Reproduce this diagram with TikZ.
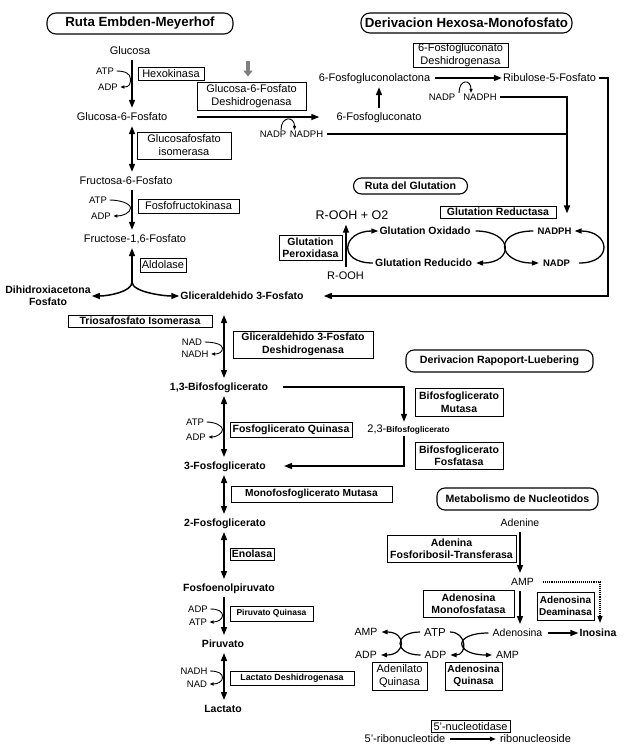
\documentclass[tikz,border=0pt]{standalone}
\usepackage{fontspec}
\setmainfont{Liberation Sans}
\usetikzlibrary{arrows.meta,calc}
\tikzset{
  met/.style={font=\fontsize{11}{13}\selectfont, inner xsep=1pt, inner ysep=5pt, text height=7.9pt, text depth=0pt},
  nmet/.style={met, font=\fontsize{10.5}{12.5}\selectfont, text height=7.6pt},
  bmet/.style={font=\fontsize{10.5}{12.5}\selectfont\bfseries, inner xsep=1pt, inner ysep=5pt, text height=7.6pt, text depth=0pt},
  cof/.style={font=\fontsize{9.5}{11}\selectfont, inner sep=0.5pt, text height=6.8pt, text depth=0pt},
  enz/.style={draw, line width=0.8pt, inner sep=0pt, align=center, font=\fontsize{11}{13}\selectfont},
  benz/.style={enz, font=\fontsize{10.5}{12.5}\selectfont\bfseries},
  sbenz/.style={enz, font=\fontsize{8.5}{10}\selectfont\bfseries},
  ttl/.style={draw, line width=1.1pt, rounded corners=9pt, inner sep=0pt, font=\fontsize{13.3}{15}\selectfont\bfseries},
  sttl/.style={ttl, rounded corners=8pt, font=\fontsize{10.6}{12}\selectfont\bfseries},
  arr/.style={line width=1.5pt, -{Triangle[length=8pt,width=6pt]}},
  darr/.style={line width=1.5pt, {Triangle[length=8pt,width=6pt]}-{Triangle[length=8pt,width=6pt]}},
  ln/.style={line width=1.5pt},
  carr/.style={line width=0.9pt, -{Triangle[length=4pt,width=3.2pt]}},
  garr/.style={line width=1.3pt, -{Triangle[length=7pt,width=5pt]}},
  narr/.style={line width=1.2pt, -{Triangle[length=6pt,width=4.5pt]}},
}
\begin{document}
\begin{tikzpicture}[x=1pt,y=-1pt]
\useasboundingbox (0,0) rectangle (624,755);
% column coordinates
\coordinate (cA) at (132,0);
\coordinate (cB) at (224,0);
\coordinate (cC) at (404,0);
\coordinate (cR) at (567,0);
\coordinate (cRR) at (608,0);
\coordinate (cG) at (346,0);
\coordinate (cN) at (520,0);
\coordinate (cD) at (600,0);

% titles
\node[ttl, minimum width=186pt, minimum height=21pt] (t1) at (140,23.5) {Ruta Embden-Meyerhof};
\node[ttl, minimum width=211pt, minimum height=20pt] (t2) at (466.5,23) {Derivacion Hexosa-Monofosfato};
\node[sttl, minimum width=114pt, minimum height=16pt] (t3) at (410.5,186) {Ruta del Glutation};
\node[sttl, minimum width=187pt, minimum height=22pt] (t4) at (499.5,361) {Derivacion Rapoport-Luebering};
\node[sttl, minimum width=161pt, minimum height=22pt] (t5) at (517.5,499) {Metabolismo de Nucleotidos};

% ---------------- upper glycolysis
\node[met] (glc) at (130,51) {Glucosa};
\node[met] (g6p) at (122,117) {Glucosa-6-Fosfato};
\node[met] (f6p) at (126,181) {Fructosa-6-Fosfato};
\node[met] (f16) at (135,239) {Fructose-1,6-Fosfato};
\node[font=\fontsize{10.5}{12}\selectfont\bfseries, align=center, inner sep=1pt] (dhap) at (48,296) {Dihidroxiacetona\\Fosfato};
\node[bmet] (gap) at (242,296) {Gliceraldehido 3-Fosfato};

\node[enz, minimum width=66pt, minimum height=13pt] (hk) at (171,73.5) {Hexokinasa};
\node[cof] (atp1) at (105,71) {ATP};
\node[cof] (adp1) at (108,87) {ADP};
\draw[arr] (glc.south -| cA) -- (g6p.north -| cA);
\coordinate (m1) at ($(atp1.east)!0.5!(adp1.east)$);
\draw[carr] ([xshift=2pt]atp1.east) .. controls +(9,0) and +(0,-5) .. ($(m1 -| cA)+(-1.5,0)$) .. controls +(0,5) and +(9,0) .. ([xshift=2pt]adp1.east);

\node[enz, minimum width=94pt, minimum height=27pt] (gpi) at (184,145.5) {Glucosafosfato\\isomerasa};
\draw[darr] (g6p.south -| cA) -- (f6p.north -| cA);

\node[enz, minimum width=101pt, minimum height=14pt] (pfk) at (188.5,206) {Fosfofructokinasa};
\node[cof] (atp2) at (98,200) {ATP};
\node[cof] (adp2) at (101,216) {ADP};
\draw[arr] (f6p.south -| cA) -- (f16.north -| cA);
\coordinate (m2) at ($(atp2.east)!0.5!(adp2.east)$);
\draw[carr] ([xshift=2pt]atp2.east) .. controls +(9,0) and +(0,-5) .. ($(m2 -| cA)+(-1.5,0)$) .. controls +(0,5) and +(9,0) .. ([xshift=2pt]adp2.east);

\node[enz, minimum width=46pt, minimum height=14pt] (ald) at (163,265) {Aldolase};
\coordinate (jn) at (132,282);
\draw[arr] (jn) -- (f16.south -| jn);
\draw[arr] (jn) .. controls +(0,10) and +(16,0) .. (dhap.east);
\draw[arr] (jn) .. controls +(0,10) and +(-16,0) .. (gap.west);

% ---------------- hexose monophosphate
\node[enz, minimum width=109pt, minimum height=28pt] (g6pd) at (251.5,96) {Glucosa-6-Fosfato\\Deshidrogenasa};
\coordinate (gsrc) at (248,61);
\draw[line width=3.5pt, gray, -{Triangle[length=6pt,width=9pt]}] (gsrc) -- ($(g6pd.north -| gsrc)+(0,-5)$);
\node[met] (pg6) at (379,117) {6-Fosfogluconato};
\node[met] (lac) at (374.5,78) {6-Fosfogluconolactona};
\node[met] (rib) at (549.5,78) {Ribulose-5-Fosfato};
\node[enz, minimum width=95pt, minimum height=24pt] (pgd) at (460.5,55) {6-Fosfogluconato\\Deshidrogenasa};
\draw[arr] (g6pd.south west |- g6p) -- ([xshift=-16pt]pg6.west);
\draw[arr] (pg6.north) -- (pg6.north |- lac.south);
\draw[arr] ([xshift=4pt]lac.east) -- (rib.west);

\node[cof] (nadp1) at (273,134) {NADP};
\node[cof] (nadph1) at (306.5,134) {NADPH};
\draw[carr] ([xshift=8pt]nadp1.north) .. controls +(0,-14) and +(0,-14) .. ([xshift=-12pt]nadph1.north);
\node[cof] (nadp2) at (442,97) {NADP};
\node[cof] (nadph2) at (480,97) {NADPH};
\draw[carr] ([xshift=17pt]nadp2.north) .. controls +(0,-14) and +(0,-14) .. ([xshift=-9pt]nadph2.north);

% ---------------- glutathione
\node[font=\fontsize{12.5}{14}\selectfont, inner xsep=1pt, inner ysep=5pt, text height=9pt, text depth=0pt] (rooh2) at (352,215) {R-OOH + O2};
\node[met] (rooh1) at (345.5,276) {R-OOH};
\node[benz, minimum width=116pt, minimum height=12pt] (gr) at (498,212) {Glutation Reductasa};
\node[benz, minimum width=63pt, minimum height=25pt, font=\fontsize{10.5}{12}\selectfont\bfseries] (gpx) at (310.5,247.5) {Glutation\\Peroxidasa};
\node[bmet] (gsg) at (425,231) {Glutation Oxidado};
\node[bmet] (gsh) at (423.5,263) {Glutation Reducido};
\node[bmet, font=\fontsize{9.5}{11}\selectfont\bfseries, text height=6.8pt] (nadphg) at (554.5,231) {NADPH};
\node[bmet, font=\fontsize{9.5}{11}\selectfont\bfseries, text height=6.8pt] (nadpg) at (556.5,263) {NADP};
\draw[arr] (rooh1.north -| cG) -- (rooh2.south -| cG);
\draw[garr] ([xshift=-1pt]gsh.west) .. controls +(-36,0) and +(-36,0) .. (gsg.west);
\draw[garr] ([xshift=4pt]gsg.east) .. controls +(38,0) and +(38,0) .. ([xshift=3pt]gsh.east);
\draw[garr] ([xshift=-3pt]nadphg.west) .. controls +(-41,0) and +(-41,0) .. ([xshift=-3pt]nadpg.west);
\draw[garr] ([xshift=8pt]nadpg.east) .. controls +(35,0) and +(35,0) .. ([xshift=2pt]nadphg.east);

% connectors of the right side
\draw[ln] ([xshift=3pt]nadph1.east) -- (nadph1 -| cR);
\draw[arr] ([xshift=3pt]nadph2.east) -- (nadph2 -| cR) -- ($(cR |- nadphg.north)+(0,-9)$);
\draw[arr] ([xshift=2pt]rib.east) -- (rib -| cRR) -- (cRR |- gap) -- ([xshift=19pt]gap.east);

% ---------------- lower glycolysis
\node[benz, minimum width=144pt, minimum height=12pt] (tpi) at (140,321) {Triosafosfato Isomerasa};
\node[benz, minimum width=140pt, minimum height=27pt] (gapdh) at (303,344.5) {Gliceraldehido 3-Fosfato\\Deshidrogenasa};
\node[cof] (nad1) at (192,342) {NAD};
\node[cof] (nadh1) at (195,354) {NADH};
\node[bmet] (bpg13) at (219,387) {1,3-Bifosfoglicerato};
\draw[darr, shorten <=10pt] (gap.south -| cB) -- (bpg13.north -| cB);
\coordinate (m3) at ($(nad1.east)!0.5!(nadh1.east)$);
\draw[carr] ([xshift=2pt]nad1.east) .. controls +(8,0) and +(0,-4) .. ($(m3 -| cB)+(-1.5,0)$) .. controls +(0,4) and +(8,0) .. ([xshift=2pt]nadh1.east);

\node[inner xsep=1pt, inner ysep=3pt, text height=7.9pt, text depth=0pt] (bpg23) at (408.5,429) {{\fontsize{11}{13}\selectfont 2,3-}{\fontsize{8.3}{10}\selectfont\bfseries Bifosfoglicerato}};
\node[benz, minimum width=88pt, minimum height=28pt] (bpgm) at (459,402) {Bifosfoglicerato\\Mutasa};
\node[benz, minimum width=88pt, minimum height=27pt] (bpgp) at (459,455.5) {Bifosfoglicerato\\Fosfatasa};

\node[benz, minimum width=122pt, minimum height=15pt] (pgk) at (291,429.5) {Fosfoglicerato Quinasa};
\node[cof] (atp3) at (195,422) {ATP};
\node[cof] (adp3) at (196,437) {ADP};
\node[bmet] (pg3) at (225,466) {3-Fosfoglicerato};
\draw[darr] (bpg13.south -| cB) -- (pg3.north -| cB);
\coordinate (m4) at ($(atp3.east)!0.5!(adp3.east)$);
\draw[carr] ([xshift=2pt]atp3.east) .. controls +(8,0) and +(0,-4) .. ($(m4 -| cB)+(-1.5,0)$) .. controls +(0,4) and +(8,0) .. ([xshift=2pt]adp3.east);

\draw[arr] ([xshift=14pt]bpg13.east) -- (bpg13 -| cC) -- (bpg23.north -| cC);
\draw[arr] (bpg23.south -| cC) -- (cC |- pg3) -- ([xshift=17pt]pg3.east);

\node[benz, minimum width=161pt, minimum height=16pt, font=\fontsize{10.2}{12}\selectfont\bfseries] (pgm) at (311.5,494) {Monofosfoglicerato Mutasa};
\node[bmet] (pg2) at (225,523) {2-Fosfoglicerato};
\draw[darr] (pg3.south -| cB) -- (pg2.north -| cB);

\node[benz, minimum width=44pt, minimum height=12pt] (eno) at (252,554) {Enolasa};
\node[bmet] (pep) at (229,588) {Fosfoenolpiruvato};
\draw[darr] (pg2.south -| cB) -- (pep.north -| cB);

\node[sbenz, minimum width=83pt, minimum height=15pt] (pk) at (271.5,613.5) {Piruvato Quinasa};
\node[cof] (adp4) at (198,609) {ADP};
\node[cof] (atp4) at (198,622) {ATP};
\node[bmet] (pyr) at (223,644) {Piruvato};
\draw[arr] (pep.south -| cB) -- (pyr.north -| cB);
\coordinate (m5) at ($(adp4.east)!0.5!(atp4.east)$);
\draw[carr] ([xshift=2pt]adp4.east) .. controls +(8,0) and +(0,-4) .. ($(m5 -| cB)+(-1.5,0)$) .. controls +(0,4) and +(8,0) .. ([xshift=2pt]atp4.east);

\node[sbenz, minimum width=124pt, minimum height=14pt, font=\fontsize{8.9}{10}\selectfont\bfseries] (ldh) at (292,678) {Lactato Deshidrogenasa};
\node[cof] (nadh4) at (194,671) {NADH};
\node[cof] (nad4) at (197,684) {NAD};
\node[bmet] (lact) at (223,709) {Lactato};
\draw[darr] (pyr.south -| cB) -- (lact.north -| cB);
\coordinate (m6) at ($(nadh4.east)!0.5!(nad4.east)$);
\draw[carr] ([xshift=2pt]nadh4.east) .. controls +(8,0) and +(0,-4) .. ($(m6 -| cB)+(-1.5,0)$) .. controls +(0,4) and +(8,0) .. ([xshift=2pt]nad4.east);

% ---------------- nucleotides
\node[nmet] (ade) at (520,523) {Adenine};
\node[benz, minimum width=129pt, minimum height=27pt] (aprt) at (451.5,548.5) {Adenina\\Fosforibosil-Transferasa};
\node[nmet] (amp) at (522.5,582) {AMP};
\draw[arr] (ade.south -| cN) -- (amp.north -| cN);
\node[benz, minimum width=91pt, minimum height=27pt] (amf) at (468.5,603.5) {Adenosina\\Monofosfatasa};
\node[benz, minimum width=57pt, minimum height=28pt, font=\fontsize{10}{12.5}\selectfont\bfseries] (ada) at (565.5,606) {Adenosina\\Deaminasa};
\node[nmet] (ados) at (517.5,633) {Adenosina};
\node[bmet] (ino) at (598,633) {Inosina};
\draw[arr] (amp.south -| cN) -- (ados.north -| cN);
\draw[arr, line width=1.3pt] ([xshift=4pt]ados.east) -- (ino.west);
\draw[line width=1.1pt, densely dotted, -{Triangle[length=7pt,width=5pt]}] ([xshift=8pt]amp.east) -- (amp -| cD) -- ($(cD |- ino.north)+(0,-1)$);

\node[met, font=\fontsize{11.5}{13}\selectfont, text height=8.2pt] (atpn) at (435,632) {ATP};
\node[nmet] (ampl) at (366,632) {AMP};
\node[nmet] (adpl) at (366,655) {ADP};
\node[nmet] (adpm) at (435.5,655) {ADP};
\node[nmet] (ampr) at (507.5,655) {AMP};
\draw[line width=1.2pt, {Triangle[length=6pt,width=4.5pt]}-{Triangle[length=6pt,width=4.5pt]}] ([xshift=3pt]ampl.east) .. controls +(25,0) and +(25,0) .. ([xshift=3pt]adpl.east);
\draw[line width=1.2pt] ([xshift=-3pt]atpn.west) .. controls +(-27,0) and +(-27,0) .. ([xshift=-3pt]adpm.west);
\draw[narr] ([xshift=3pt]atpn.east) .. controls +(17,0) and +(17,0) .. ([xshift=3pt]adpm.east);
\draw[narr] ([xshift=-3pt]ados.west) .. controls +(-37,0) and +(-37,0) .. ([xshift=-3pt]ampr.west);

\node[enz, minimum width=55pt, minimum height=28pt] (adk) at (399.5,676) {Adenilato\\Quinasa};
\node[benz, minimum width=57pt, minimum height=28pt, font=\fontsize{10.2}{12.5}\selectfont\bfseries] (adok) at (473.5,676) {Adenosina\\Quinasa};

\node[enz, minimum width=79pt, minimum height=12pt] (nt5) at (470.5,726.5) {5'-nucleotidase};
\node[met] (rnt) at (405,739) {5'-ribonucleotide};
\node[met] (rns) at (535.5,739) {ribonucleoside};
\draw[narr] ([xshift=3pt]rnt.east) -- ([xshift=-3pt]rns.west);
\end{tikzpicture}
\end{document}
